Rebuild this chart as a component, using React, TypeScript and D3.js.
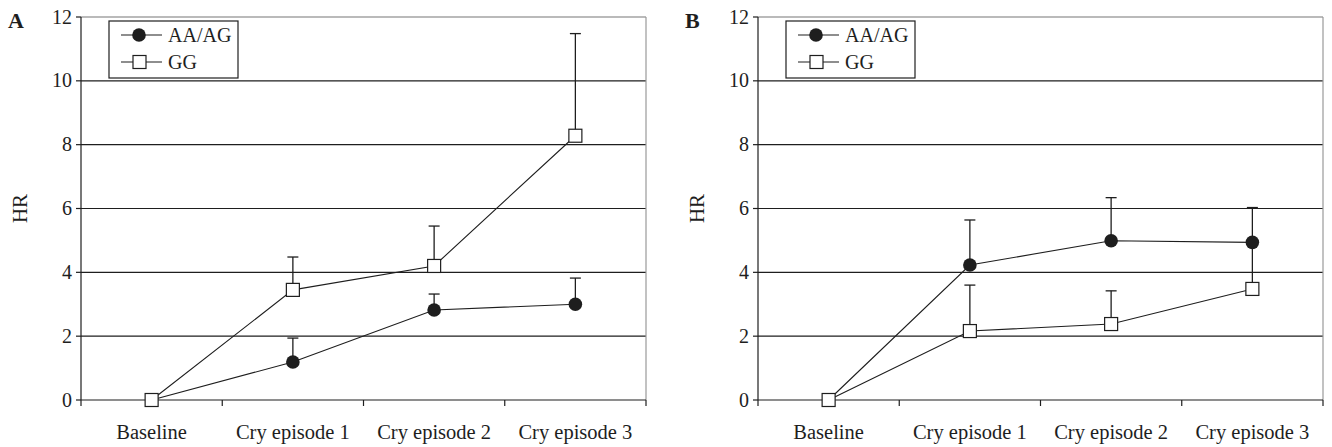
import React from 'react';
import * as d3 from 'd3';

const categories = ['Baseline', 'Cry episode 1', 'Cry episode 2', 'Cry episode 3'];
const yTicks = [0, 2, 4, 6, 8, 10, 12];
const seriesNames = ['AA/AG', 'GG'];

// panel A
const aAA = [0, 1.19, 2.82, 3.0];
const aAAErr = [0, 1.94, 3.32, 3.82];
const aGG = [0, 3.45, 4.2, 8.28];
const aGGErr = [0, 4.48, 5.45, 11.48];

// panel B
const bAA = [0, 4.23, 4.99, 4.94];
const bAAErr = [0, 5.64, 6.34, 6.03];
const bGG = [0, 2.16, 2.38, 3.48];
const bGGErr = [0, 3.6, 3.42, 4.94];

const font = '"Liberation Serif", "DejaVu Serif", serif';
const ink = '#1e1e1e';

const Panel = ({ x0, label, aa, aaErr, gg, ggErr }) => {
	const w = 565;
	const top = 17;
	const bottom = 400;
	const x = d3.scaleBand().domain(categories).range([x0, x0 + w]);
	const y = d3.scaleLinear().domain([0, 12]).range([bottom, top]);
	const cx = (c) => x(c) + x.bandwidth() / 2;
	const line = d3.line().x((d, i) => cx(categories[i])).y((d) => y(d));
	const boundaries = d3.range(categories.length + 1).map((i) => x0 + i * x.bandwidth());

	const errBars = (vals, errs) =>
		vals.map((v, i) =>
			errs[i] > v ? (
				<g key={i} stroke={ink} strokeWidth={1.3}>
					<line x1={cx(categories[i])} x2={cx(categories[i])} y1={y(v)} y2={y(errs[i])} />
					<line x1={cx(categories[i]) - 5.5} x2={cx(categories[i]) + 5.5} y1={y(errs[i])} y2={y(errs[i])} />
				</g>
			) : null
		);

	return (
		<g>
			<text x={x0 - 73} y={28} fontFamily={font} fontSize={22} fontWeight="bold" fill={ink}>
				{label}
			</text>
			{yTicks.filter((t) => t > 0).map((t) => (
				<line key={t} x1={x0} x2={x0 + w} y1={y(t)} y2={y(t)} stroke={t === 12 ? '#777' : ink} strokeWidth={1.2} />
			))}
			<line x1={x0 + w} x2={x0 + w} y1={top} y2={bottom} stroke="#999" strokeWidth={1.2} />
			<line x1={x0} x2={x0} y1={top} y2={bottom} stroke={ink} strokeWidth={1.2} />
			<line x1={x0} x2={x0 + w} y1={bottom} y2={bottom} stroke={ink} strokeWidth={1.2} />
			{yTicks.map((t) => (
				<g key={t}>
					<line x1={x0 - 5} x2={x0} y1={y(t)} y2={y(t)} stroke={ink} strokeWidth={1.2} />
					<text x={x0 - 9} y={y(t) + 6.5} textAnchor="end" fontFamily={font} fontSize={20} fill={ink}>
						{t}
					</text>
				</g>
			))}
			{boundaries.map((b, i) => (
				<line key={i} x1={b} x2={b} y1={bottom} y2={bottom + 6} stroke={ink} strokeWidth={1.2} />
			))}
			{categories.map((c) => (
				<text key={c} x={cx(c)} y={439} textAnchor="middle" fontFamily={font} fontSize={20.5} fill={ink}>
					{c}
				</text>
			))}
			<text
				transform={`translate(${x0 - 54}, ${y(6)}) rotate(-90)`}
				textAnchor="middle"
				fontFamily={font}
				fontSize={21}
				fill={ink}
			>
				HR
			</text>
			{errBars(aa, aaErr)}
			{errBars(gg, ggErr)}
			<path d={line(gg)} fill="none" stroke={ink} strokeWidth={1.1} />
			<path d={line(aa)} fill="none" stroke={ink} strokeWidth={1.1} />
			{gg.map((v, i) => (
				<rect key={i} x={cx(categories[i]) - 6.5} y={y(v) - 6.5} width={13} height={13} fill="#fff" stroke={ink} strokeWidth={1.2} />
			))}
			{aa.map((v, i) => (i === 0 ? null : <circle key={i} cx={cx(categories[i])} cy={y(v)} r={6.8} fill={ink} />))}
			<g>
				<rect x={x0 + 28} y={21} width={129} height={57} fill="#fff" stroke={ink} strokeWidth={1.2} />
				{seriesNames.map((s, i) => {
					const ly = 35 + i * 27;
					return (
						<g key={s}>
							<line x1={x0 + 40} x2={x0 + 81} y1={ly} y2={ly} stroke={ink} strokeWidth={1.2} />
							{i === 0 ? (
								<circle cx={x0 + 58} cy={ly} r={6.8} fill={ink} />
							) : (
								<rect x={x0 + 52} y={ly - 6.5} width={13} height={13} fill="#fff" stroke={ink} strokeWidth={1.2} />
							)}
							<text x={x0 + 87} y={ly + 7} fontFamily={font} fontSize={20} fill={ink}>
								{s}
							</text>
						</g>
					);
				})}
			</g>
		</g>
	);
};

export default function App() {
	return (
		<svg width={1332} height={447} style={{ position: 'absolute', left: 0, top: 0, background: '#fff' }}>
			<rect width={1332} height={447} fill="#fff" />
			<Panel x0={81} label="A" aa={aAA} aaErr={aAAErr} gg={aGG} ggErr={aGGErr} />
			<Panel x0={758} label="B" aa={bAA} aaErr={bAAErr} gg={bGG} ggErr={bGGErr} />
		</svg>
	);
}
